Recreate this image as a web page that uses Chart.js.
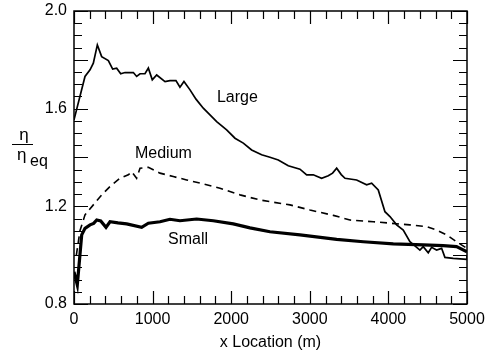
<!DOCTYPE html>
<html>
<head>
<meta charset="utf-8">
<script src="https://cdn.jsdelivr.net/npm/chart.js@4/dist/chart.umd.min.js"></script>
<style>
  html, body { margin: 0; padding: 0; background: #fff; }
  #wrap { width: 487px; height: 354px; }
</style>
</head>
<body>
<div id="wrap"><canvas id="etaChart" width="487" height="354"></canvas></div>
<script>
// values
const largeX = [0,140,204,246,297,352,437,492,543,594,649,755,797,840,903,946,996,1052,1158,1221,1297,1348,1399,1476,1552,1645,1730,1815,1942,2048,2154,2260,2387,2493,2599,2726,2875,2960,3044,3150,3235,3290,3342,3400,3448,3596,3723,3787,3871,3956,4020,4105,4189,4274,4330,4401,4443,4507,4550,4613,4677,4719,4825,5000,5000,4825];
const largeY = [1.554,1.732,1.759,1.786,1.861,1.813,1.797,1.762,1.766,1.743,1.748,1.748,1.732,1.743,1.743,1.766,1.718,1.738,1.711,1.715,1.715,1.688,1.711,1.677,1.639,1.602,1.575,1.547,1.513,1.479,1.459,1.431,1.411,1.401,1.390,1.366,1.352,1.329,1.329,1.315,1.325,1.336,1.356,1.330,1.315,1.308,1.288,1.295,1.267,1.178,1.158,1.124,1.103,1.055,1.040,1.021,1.035,1.010,1.032,1.021,1.028,0.991,0.987,0.983,0.997,0.997];

const mediumX = [30,76,140,246,352,458,585,691,734,797,840,946,1094,1263,1433,1603,1857,2112,2366,2493,2748,3002,3299,3511,3808,4020,4274,4486,4613,4740,4867,5000];
const mediumY = [1.00,1.10,1.165,1.206,1.247,1.281,1.315,1.329,1.342,1.315,1.356,1.360,1.336,1.322,1.308,1.295,1.274,1.247,1.226,1.219,1.206,1.185,1.163,1.144,1.137,1.131,1.124,1.117,1.103,1.083,1.055,1.028];

const smallX = [0,42,98,140,204,250,289,340,407,458,560,670,861,946,1094,1221,1348,1560,1772,2027,2239,2493,2875,3342,3681,4062,4443,4697,4867,5000];
const smallY = [0.932,0.878,1.083,1.110,1.124,1.130,1.144,1.140,1.114,1.137,1.132,1.128,1.114,1.131,1.137,1.147,1.141,1.148,1.141,1.128,1.112,1.096,1.083,1.065,1.055,1.046,1.042,1.039,1.035,1.014];

const curveNames = ['Large', 'Medium', 'Small'];
const curveLabelX = [1819, 776, 1196];
const curveLabelY = [1.644, 1.414, 1.065];

const xTicks = [0, 1000, 2000, 3000, 4000, 5000];
const yTicks = [0.8, 1.2, 1.6, 2.0];

const FONT = 'Arial, "Liberation Sans", sans-serif';

function toPoints(xs, ys) {
  return xs.map((x, i) => ({ x: x, y: ys[i] }));
}

// inward ticks on all four sides, frame, curve names and the eta/eta_eq label
const framePlugin = {
  id: 'frame',
  afterDraw(chart) {
    const c = chart.ctx;
    const a = chart.chartArea;
    const sx = chart.scales.x;
    const sy = chart.scales.y;
    c.save();
    c.strokeStyle = '#000';
    c.lineWidth = 1.2;
    c.beginPath();
    for (let v = 0; v <= 5000; v += 200) {
      const px = Math.round(sx.getPixelForValue(v)) + 0.5;
      const len = v % 1000 === 0 ? 13 : 8;
      c.moveTo(px, a.bottom); c.lineTo(px, a.bottom - len);
      c.moveTo(px, a.top); c.lineTo(px, a.top + len);
    }
    for (let k = 0; k <= 24; k++) {
      const v = 0.8 + k * 0.05;
      const py = Math.round(sy.getPixelForValue(v)) + 0.5;
      const len = k % 4 === 0 ? 14 : 8;
      c.moveTo(a.left, py); c.lineTo(a.left + len, py);
      c.moveTo(a.right, py); c.lineTo(a.right - len, py);
    }
    c.stroke();
    c.lineWidth = 1.5;
    c.strokeRect(a.left, a.top, a.right - a.left, a.bottom - a.top);

    c.fillStyle = '#000';
    c.font = '16px ' + FONT;
    c.textBaseline = 'middle';
    c.textAlign = 'left';
    curveNames.forEach((t, i) => {
      c.fillText(t, sx.getPixelForValue(curveLabelX[i]), sy.getPixelForValue(curveLabelY[i]));
    });

    // y axis label: eta over eta_eq
    c.textAlign = 'center';
    c.textBaseline = 'alphabetic';
    c.font = '17px ' + FONT;
    c.fillText('\u03B7', 24, 140);
    c.lineWidth = 1;
    c.beginPath();
    c.moveTo(12, 144.5); c.lineTo(33, 144.5);
    c.stroke();
    c.textAlign = 'left';
    c.fillText('\u03B7', 17, 160);
    c.font = '16px ' + FONT;
    c.fillText('eq', 30, 166);
    c.restore();
  }
};

const ctx = document.getElementById('etaChart').getContext('2d');
const etaChart = new Chart(ctx, {
  type: 'line',
  data: {
    datasets: [
      {
        label: 'Large',
        data: toPoints(largeX, largeY),
        borderColor: '#000',
        borderWidth: 1.7
      },
      {
        label: 'Medium',
        data: toPoints(mediumX, mediumY),
        borderColor: '#000',
        borderWidth: 1.6,
        borderDash: [7, 5]
      },
      {
        label: 'Small',
        data: toPoints(smallX, smallY),
        borderColor: '#000',
        borderWidth: 3.2
      }
    ]
  },
  options: {
    responsive: false,
    animation: false,
    parsing: false,
    elements: {
      point: { radius: 0 },
      line: { tension: 0, fill: false }
    },
    layout: { padding: { left: 0, right: 20, top: 11, bottom: 0 } },
    plugins: {
      legend: { display: false },
      tooltip: { enabled: false }
    },
    scales: {
      x: {
        type: 'linear',
        min: 0,
        max: 5000,
        afterBuildTicks: (s) => { s.ticks = xTicks.map(v => ({ value: v })); },
        afterFit: (s) => {
          s.height = 50;
          // keep the plot area where the layout padding puts it
          s.paddingLeft = 0;
          s.paddingRight = 0;
        },
        grid: { display: false, drawTicks: false },
        border: { display: false },
        ticks: {
          color: '#000',
          padding: 6,
          maxRotation: 0,
          font: { family: FONT, size: 16 },
          callback: (v) => String(v)
        },
        title: {
          display: true,
          text: 'x Location (m)',
          color: '#000',
          font: { family: FONT, size: 16 },
          padding: { top: 0, bottom: 2 }
        }
      },
      y: {
        type: 'linear',
        min: 0.8,
        max: 2.0,
        afterBuildTicks: (s) => { s.ticks = yTicks.map(v => ({ value: v })); },
        afterFit: (s) => {
          s.width = 74;
          s.paddingTop = 0;
          s.paddingBottom = 0;
        },
        grid: { display: false, drawTicks: false },
        border: { display: false },
        ticks: {
          color: '#000',
          padding: 7,
          font: { family: FONT, size: 16 },
          callback: (v) => Number(v).toFixed(1)
        }
      }
    }
  },
  plugins: [framePlugin]
});
</script>
</body>
</html>
